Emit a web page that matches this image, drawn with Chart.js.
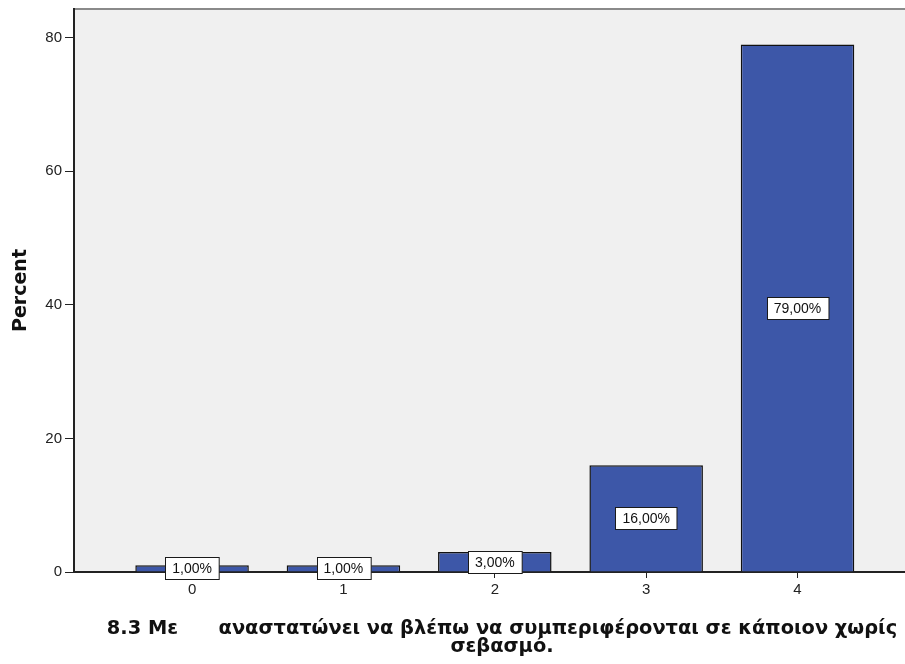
<!DOCTYPE html>
<html lang="el">
<head>
<meta charset="utf-8">
<title>8.3 Percent</title>
<script src="https://cdn.jsdelivr.net/npm/chart.js@4.4.1/dist/chart.umd.min.js"></script>
<style>
    html, body { margin: 0; padding: 0; background: #ffffff; }
    #wrap { width: 905px; height: 664px; position: relative; }
</style>
</head>
<body>
<div id="wrap"><canvas id="percent-chart"></canvas></div>
<script>
// Chart data
const categories = [0, 1, 2, 3, 4];
const percents = [1, 1, 3, 16, 79];
const valueLabels = ['1,00%', '1,00%', '3,00%', '16,00%', '79,00%'];
const yTicks = [0, 20, 40, 60, 80];
const xTitleLines = [
    '8.3 Με      αναστατώνει να βλέπω να συμπεριφέρονται σε κάποιον χωρίς',
    'σεβασμό.'
];

(function() {
    'use strict';

    const BAR_FILL = '#3D57A8';
    const AXIS_COLOR = '#222222';

    // Grey plot background with the frame line on top
    const plotBackground = {
        id: 'plotBackground',
        beforeDraw: function(chart) {
            const ctx = chart.ctx;
            const area = chart.chartArea;
            ctx.save();
            ctx.fillStyle = '#F0F0F0';
            ctx.fillRect(area.left, area.top, area.right - area.left, area.bottom - area.top);
            ctx.strokeStyle = '#8A8A8A';
            ctx.lineWidth = 2;
            ctx.beginPath();
            ctx.moveTo(area.left, area.top);
            ctx.lineTo(area.right, area.top);
            ctx.stroke();
            ctx.restore();
        }
    };

    // Boxed value labels in the middle of each bar
    const boxedLabels = {
        id: 'boxedLabels',
        afterDatasetsDraw: function(chart) {
            const ctx = chart.ctx;
            const meta = chart.getDatasetMeta(0);
            ctx.save();
            ctx.font = '14px "Liberation Sans", Arial, sans-serif';
            ctx.textAlign = 'center';
            ctx.textBaseline = 'middle';
            meta.data.forEach(function(bar, i) {
                const props = bar.getProps(['x', 'y', 'base'], true);
                const cy = (props.y + props.base) / 2;
                const text = valueLabels[i];
                const w = ctx.measureText(text).width + 14;
                const h = 22;
                const left = Math.round(props.x - w / 2) + 0.5;
                const top = Math.round(cy - h / 2) + 0.5;
                ctx.fillStyle = '#ffffff';
                ctx.fillRect(left, top, w, h);
                ctx.strokeStyle = '#1a1a1a';
                ctx.lineWidth = 1;
                ctx.strokeRect(left, top, w, h);
                ctx.fillStyle = '#111111';
                ctx.fillText(text, props.x, cy + 1);
            });
            ctx.restore();
        }
    };

    // Two line x axis title, centred like the original
    const xAxisTitle = {
        id: 'xAxisTitle',
        afterDraw: function(chart) {
            const ctx = chart.ctx;
            ctx.save();
            ctx.font = 'bold 19.4px "DejaVu Sans", sans-serif';
            ctx.fillStyle = '#111111';
            ctx.textAlign = 'center';
            ctx.textBaseline = 'alphabetic';
            xTitleLines.forEach(function(line, i) {
                ctx.fillText(line, 502, 634 + i * 18);
            });
            ctx.restore();
        }
    };

    const ctx = document.getElementById('percent-chart');

    new Chart(ctx, {
        type: 'bar',
        data: {
            datasets: [{
                label: 'Percent',
                data: categories.map(function(c, i) {
                    return { x: c, y: percents[i] };
                }),
                backgroundColor: BAR_FILL,
                borderColor: '#111111',
                borderWidth: 1.5,
                borderSkipped: 'bottom',
                barPercentage: 0.75,
                categoryPercentage: 1
            }]
        },
        options: {
            responsive: true,
            maintainAspectRatio: false,
            animation: false,
            layout: {
                padding: { top: 9, right: 0, bottom: 0, left: 0 }
            },
            plugins: {
                legend: { display: false },
                tooltip: { enabled: false }
            },
            scales: {
                x: {
                    type: 'linear',
                    offset: false,
                    min: -0.78,
                    max: 4.71,
                    afterBuildTicks: function(scale) {
                        scale.ticks = categories.map(function(c) { return { value: c }; });
                    },
                    afterFit: function(scale) {
                        scale.height = 92;
                        scale.paddingLeft = 0;
                        scale.paddingRight = 0;
                    },
                    ticks: {
                        autoSkip: false,
                        maxRotation: 0,
                        padding: 3,
                        color: '#222222',
                        font: { family: '"Liberation Sans", Arial, sans-serif', size: 15 },
                        callback: function(value) {
                            return String(value);
                        }
                    },
                    grid: {
                        offset: false,
                        drawOnChartArea: false,
                        drawTicks: true,
                        tickLength: 6,
                        color: AXIS_COLOR
                    },
                    border: { display: true, color: AXIS_COLOR, width: 2 }
                },
                y: {
                    min: 0,
                    max: 84.3,
                    afterBuildTicks: function(scale) {
                        scale.ticks = yTicks.map(function(v) { return { value: v }; });
                    },
                    afterFit: function(scale) {
                        scale.width = 74;
                        scale.paddingTop = 0;
                        scale.paddingBottom = 0;
                    },
                    ticks: {
                        padding: 3,
                        color: '#222222',
                        font: { family: '"Liberation Sans", Arial, sans-serif', size: 15 }
                    },
                    grid: {
                        drawOnChartArea: false,
                        drawTicks: true,
                        tickLength: 9,
                        color: AXIS_COLOR
                    },
                    border: { display: true, color: AXIS_COLOR, width: 2 },
                    title: {
                        display: true,
                        text: 'Percent',
                        color: '#111111',
                        padding: { top: 10, bottom: 4 },
                        font: { family: '"DejaVu Sans", sans-serif', size: 19, weight: 'bold' }
                    }
                }
            }
        },
        plugins: [plotBackground, boxedLabels, xAxisTitle]
    });
})();
</script>
</body>
</html>
